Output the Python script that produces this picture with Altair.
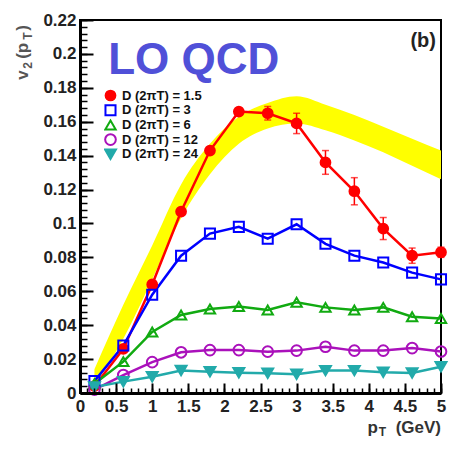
import altair as alt
import pandas as pd

# ---------------- data ----------------
pt = [0.2, 0.6, 1.0, 1.4, 1.8, 2.2, 2.6, 3.0, 3.4, 3.8, 4.2, 4.6, 5.0]

v2_d15 = [0.004, 0.026, 0.064, 0.107, 0.143, 0.166, 0.165, 0.159, 0.136, 0.119, 0.097, 0.081, 0.083]
err_d15 = [0, 0, 0, 0, 0, 0.002, 0.004, 0.006, 0.007, 0.008, 0.0065, 0.0045, 0.003]
v2_d3 = [0.007, 0.028, 0.058, 0.081, 0.094, 0.098, 0.091, 0.0995, 0.088, 0.081, 0.077, 0.071, 0.067]
v2_d6 = [0.0055, 0.0185, 0.036, 0.046, 0.0495, 0.051, 0.049, 0.0535, 0.0505, 0.049, 0.0505, 0.045, 0.044]
v2_d12 = [0.002, 0.0106, 0.0182, 0.024, 0.0253, 0.0253, 0.0244, 0.025, 0.0273, 0.025, 0.025, 0.0265, 0.0245]
v2_d24 = [0.0035, 0.0067, 0.0096, 0.0133, 0.0126, 0.012, 0.0116, 0.011, 0.0132, 0.0132, 0.0122, 0.0118, 0.0155]

band_lo = [0.004, 0.032, 0.067, 0.103, 0.129, 0.147, 0.156, 0.159, 0.155, 0.149, 0.142, 0.134, 0.126]
band_hi = [0.014, 0.052, 0.087, 0.123, 0.147, 0.163, 0.171, 0.175, 0.170, 0.164, 0.157, 0.150, 0.143]

series_names = ["D (2πT) = 1.5", "D (2πT) = 3", "D (2πT) = 6", "D (2πT) = 12", "D (2πT) = 24"]
series_ids = ["1.5", "3", "6", "12", "24"]
series_values = [v2_d15, v2_d3, v2_d6, v2_d12, v2_d24]

x_tick_values = [0, 0.5, 1, 1.5, 2, 2.5, 3, 3.5, 4, 4.5, 5]
y_tick_values = [0, 0.02, 0.04, 0.06, 0.08, 0.1, 0.12, 0.14, 0.16, 0.18, 0.2, 0.22]

# ---------------- styles ----------------
series_colors = ["#ff0000", "#0000ff", "#11aa11", "#aa11bb", "#22aaaa"]
series_fills = ["#ff0000", "transparent", "transparent", "transparent", "#22aaaa"]
series_shapes = ["circle", "square", "triangle-up", "circle", "triangle-down"]
marker_sizes = [95, 120, 110, 90, 80]
line_widths = [2.5, 2.5, 2.2, 2, 2]
FONT = "Liberation Sans"

x_minor = [round(i * 0.1, 1) for i in range(51)]
y_minor = [round(i * 0.004, 3) for i in range(56)]

rows = []
for name, sid, vals in zip(series_names, series_ids, series_values):
    for x, y in zip(pt, vals):
        rows.append({"series": name, "sid": sid, "pt": x, "v2": y})
df = pd.DataFrame(rows)

band_df = pd.DataFrame({"pt": pt, "lo": band_lo, "hi": band_hi})
err_df = pd.DataFrame({"pt": pt, "v2": v2_d15, "err": err_d15})
err_df = err_df[err_df["err"] > 0].copy()
err_df["lo"] = err_df["v2"] - err_df["err"]
err_df["hi"] = err_df["v2"] + err_df["err"]

xs = alt.Scale(domain=[0, 5], nice=False, zero=False)
ys = alt.Scale(domain=[0, 0.22], nice=False, zero=False)

label_x_axis = alt.Axis(orient="bottom", values=x_tick_values, format="~g", ticks=False,
                        labelPadding=5, labelFont=FONT, labelFontSize=17, labelFontWeight="bold",
                        labelColor="#222222", labelFlush=False, labelOverlap=False,
                        domainColor="black", domainWidth=3, grid=False, zindex=2)
label_y_axis = alt.Axis(orient="left", values=y_tick_values, format="~g", ticks=False,
                        labelPadding=4, labelFont=FONT, labelFontSize=17, labelFontWeight="bold",
                        labelColor="#222222", labelOverlap=False,
                        domainColor="black", domainWidth=3, grid=False, zindex=2)
major_x_axis = alt.Axis(orient="bottom", values=x_tick_values, offset=-10, tickSize=10,
                        tickWidth=2, tickColor="black", labels=False, domain=False, grid=False, zindex=2)
major_y_axis = alt.Axis(orient="left", values=y_tick_values, offset=-13, tickSize=13,
                        tickWidth=2, tickColor="black", labels=False, domain=False, grid=False, zindex=2)
minor_x_axis = alt.Axis(orient="bottom", values=x_minor, offset=-5, tickSize=5,
                        tickWidth=1.5, tickColor="black", labels=False, domain=False, grid=False, zindex=2)
minor_y_axis = alt.Axis(orient="left", values=y_minor, offset=-7, tickSize=7,
                        tickWidth=1.5, tickColor="black", labels=False, domain=False, grid=False, zindex=2)

band = alt.Chart(band_df).mark_area(color="#ffff00", interpolate="monotone", opacity=1).encode(
    x=alt.X("pt:Q", scale=xs, axis=label_x_axis, title=None),
    y=alt.Y("lo:Q", scale=ys, axis=label_y_axis, title=None),
    y2="hi:Q",
)

lines = alt.Chart(df).mark_line().encode(
    x=alt.X("pt:Q", scale=xs, axis=major_x_axis, title=None),
    y=alt.Y("v2:Q", scale=ys, axis=major_y_axis, title=None),
    stroke=alt.Stroke("sid:N", scale=alt.Scale(domain=series_ids, range=series_colors), legend=None),
    strokeWidth=alt.StrokeWidth("sid:N", scale=alt.Scale(domain=series_ids, range=line_widths), legend=None),
)

err_rules = alt.Chart(err_df).mark_rule(color="#ff0000", strokeWidth=1.5).encode(
    x=alt.X("pt:Q", scale=xs, axis=None),
    y=alt.Y("lo:Q", scale=ys, axis=None),
    y2="hi:Q",
)
caps_lo = alt.Chart(err_df).mark_tick(color="#ff0000", orient="horizontal", size=7, thickness=1.5).encode(
    x=alt.X("pt:Q", scale=xs, axis=None),
    y=alt.Y("lo:Q", scale=ys, axis=None),
)
caps_hi = alt.Chart(err_df).mark_tick(color="#ff0000", orient="horizontal", size=7, thickness=1.5).encode(
    x=alt.X("pt:Q", scale=xs, axis=None),
    y=alt.Y("hi:Q", scale=ys, axis=None),
)

leg = alt.Legend(orient="none", legendX=24, legendY=69, title=None, labelFont=FONT,
                 labelFontSize=13, labelFontWeight="bold", labelColor="#111111",
                 symbolStrokeWidth=2, rowPadding=0.7, clipHeight=13, labelOffset=5, padding=0)

points = alt.Chart(df).mark_point(filled=False, strokeWidth=2, opacity=1).encode(
    x=alt.X("pt:Q", scale=xs, axis=minor_x_axis, title=None),
    y=alt.Y("v2:Q", scale=ys, axis=minor_y_axis, title=None),
    color=alt.Color("series:N", scale=alt.Scale(domain=series_names, range=series_colors), legend=leg),
    fill=alt.Fill("series:N", scale=alt.Scale(domain=series_names, range=series_fills), legend=leg),
    shape=alt.Shape("series:N", scale=alt.Scale(domain=series_names, range=series_shapes), legend=leg),
    size=alt.Size("series:N", scale=alt.Scale(domain=series_names, range=marker_sizes), legend=leg),
)


def txt(text, x, y, **kw):
    d = pd.DataFrame({"x": [x], "y": [y], "t": [text]})
    return alt.Chart(d).mark_text(font=FONT, baseline="alphabetic", **kw).encode(
        x=alt.X("x:Q", scale=xs, axis=None),
        y=alt.Y("y:Q", scale=ys, axis=None),
        text="t:N",
    )


texts = [
    txt("LO QCD", 0.39, 0.1882, align="left", fontSize=44, fontWeight="bold", color="#5050d8"),
    txt("(b)", 5.0, 0.2041, align="right", dx=-5, fontSize=20, fontWeight="bold", color="#222222"),
    # x-axis title: p_T (GeV)
    txt("(GeV)", 5.0, -0.0236, align="right", fontSize=17, fontWeight="bold", color="#333333"),
    txt("T", 5.0, -0.0254, align="right", dx=-55, fontSize=12, fontWeight="bold", color="#333333"),
    txt("p", 5.0, -0.0236, align="right", dx=-63, fontSize=17, fontWeight="bold", color="#333333"),
    # y-axis title: v_2 (p_T), rotated
    txt("v", -0.72, 0.1847, align="left", angle=270, fontSize=17, fontWeight="bold", color="#555555"),
    txt("2", -0.72, 0.1847, align="left", angle=270, dx=11, dy=4, fontSize=12, fontWeight="bold", color="#555555"),
    txt("(p", -0.72, 0.1847, align="left", angle=270, dx=21, fontSize=17, fontWeight="bold", color="#555555"),
    txt("T", -0.72, 0.1847, align="left", angle=270, dx=40, dy=4, fontSize=12, fontWeight="bold", color="#555555"),
    txt(")", -0.72, 0.1847, align="left", angle=270, dx=49, fontSize=17, fontWeight="bold", color="#555555"),
]

chart = alt.layer(band, lines, err_rules, caps_lo, caps_hi, points, *texts).resolve_axis(
    x="independent", y="independent"
).properties(
    width=361, height=373,
    padding={"left": 72, "top": 12, "right": 25, "bottom": 53},
    autosize="none",
).configure_view(stroke="black", strokeWidth=2)

chart.save("out.html", embed_options={"renderer": "svg", "actions": False})
